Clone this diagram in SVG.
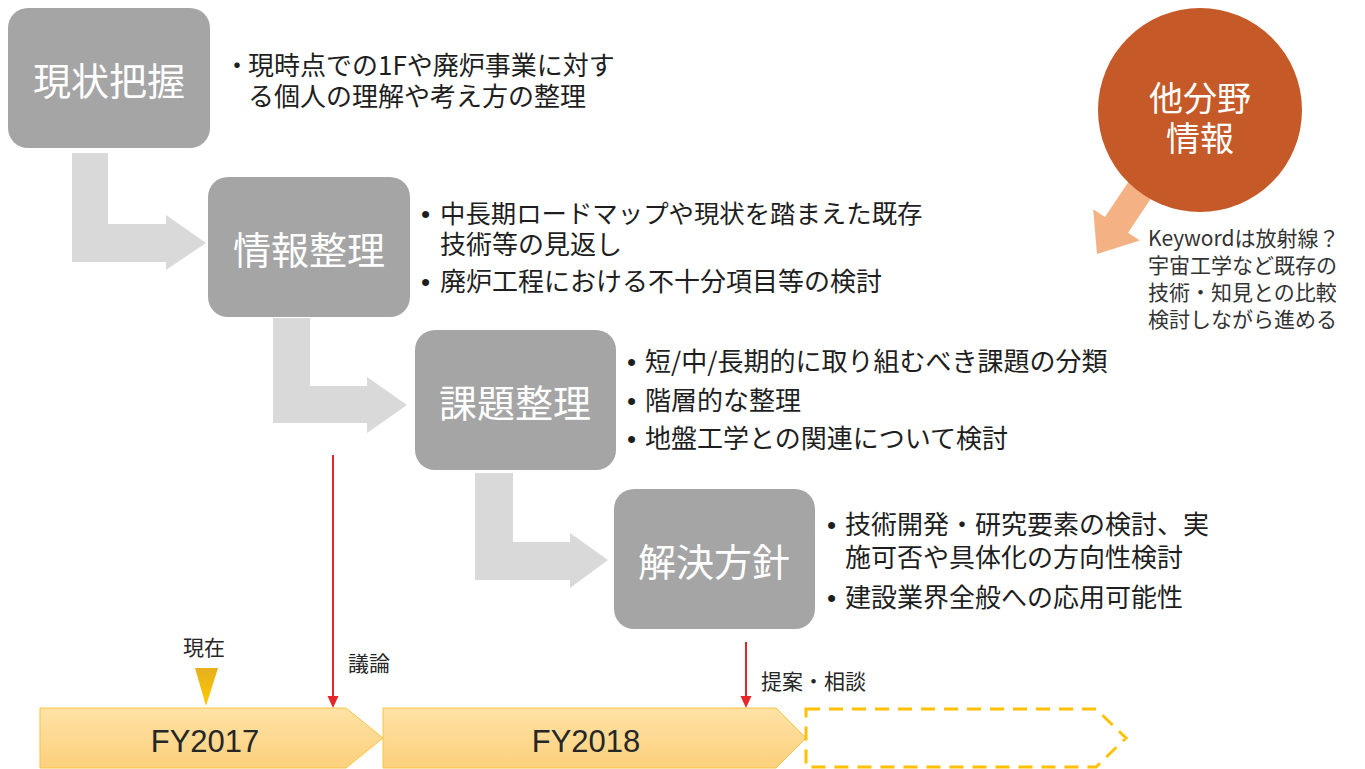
<svg xmlns="http://www.w3.org/2000/svg" width="1365" height="769" viewBox="0 0 1365 769">
<defs>
<linearGradient id="fy" x1="0" y1="0" x2="0" y2="1">
<stop offset="0" stop-color="#fee2a6"/>
<stop offset="1" stop-color="#fcd07c"/>
</linearGradient>
<linearGradient id="tri" x1="0" y1="0" x2="0" y2="1">
<stop offset="0" stop-color="#e5b020"/>
<stop offset="1" stop-color="#ffc800"/>
</linearGradient>
<style>
.box{fill:#a5a5a5}
.lbl{font-family:"Noto Sans CJK JP","Noto Sans",sans-serif;font-size:38px;fill:#ffffff;text-anchor:middle;dominant-baseline:central}
.txt{font-family:"Noto Sans CJK JP","Noto Sans",sans-serif;font-size:26px;fill:#1e1e1e}
.bul{font-family:"Liberation Sans",sans-serif}
.elbow{fill:#d9d9d9}
.red{stroke:#e8262a;stroke-width:2;fill:none}
.redh{fill:#e8262a}
.small{font-family:"Noto Sans CJK JP","Noto Sans",sans-serif;font-size:21px;fill:#262626}
.fy{fill:url(#fy);stroke:#f6c445;stroke-width:1}
.fyt{font-family:"Liberation Sans",Arial,sans-serif;font-size:31px;fill:#262626;text-anchor:middle}
.note{font-family:"Noto Sans CJK JP","Noto Sans",sans-serif;font-size:21px;fill:#333333}
</style>
</defs>
<rect width="1365" height="769" fill="#ffffff"/>

<g id="connectors">
<polygon class="elbow" points="72,153 108,153 108,224 166,224 166,215 206,243 166,270 166,262 72,262"/>
<polygon class="elbow" points="273,318 310,318 310,386 367,386 367,377 407,405 367,433 367,423 273,423"/>
<polygon class="elbow" points="475,473 513,473 513,542 570,542 570,533 608,560 570,588 570,580 475,580"/>
<line class="red" x1="333" y1="455" x2="333" y2="698"/>
<polygon class="redh" points="327.5,696 338.5,696 333,708"/>
<line class="red" x1="746" y1="642" x2="746" y2="698"/>
<polygon class="redh" points="740.5,696 751.5,696 746,708"/>
</g>

<g id="node-genjo">
<rect class="box" x="8" y="8" width="202" height="140" rx="20"/>
<text class="lbl" x="109" y="78">現状把握</text>
<text class="txt" x="224" y="75">・</text>
<text class="txt" x="248" y="75">現時点での1Fや廃炉事業に対す</text>
<text class="txt" x="248" y="106">る個人の理解や考え方の整理</text>
</g>

<g id="node-joho">
<rect class="box" x="208" y="177" width="202" height="140" rx="20"/>
<text class="lbl" x="309" y="247">情報整理</text>
<text class="txt bul" x="421" y="223">•</text>
<text class="txt" x="440" y="223" style="font-size:25.4px">中長期ロードマップや現状を踏まえた既存</text>
<text class="txt" x="440" y="254">技術等の見返し</text>
<text class="txt bul" x="421" y="291">•</text>
<text class="txt" x="440" y="291">廃炉工程における不十分項目等の検討</text>
</g>

<g id="node-kadai">
<rect class="box" x="415" y="330" width="201" height="140" rx="20"/>
<text class="lbl" x="515" y="400">課題整理</text>
<text class="txt bul" x="627" y="371">•</text>
<text class="txt" x="645" y="371">短/中/長期的に取り組むべき課題の分類</text>
<text class="txt bul" x="627" y="410">•</text>
<text class="txt" x="645" y="410">階層的な整理</text>
<text class="txt bul" x="627" y="448">•</text>
<text class="txt" x="645" y="448">地盤工学との関連について検討</text>
</g>

<g id="node-kaiketsu">
<rect class="box" x="614" y="489" width="201" height="140" rx="20"/>
<text class="lbl" x="714" y="559">解決方針</text>
<text class="txt bul" x="827" y="534">•</text>
<text class="txt" x="845" y="534">技術開発・研究要素の検討、実</text>
<text class="txt" x="845" y="567">施可否や具体化の方向性検討</text>
<text class="txt bul" x="827" y="607">•</text>
<text class="txt" x="845" y="607">建設業界全般への応用可能性</text>
</g>

<g id="node-tabunya">
<polygon fill="#f4b183" points="1133.9,173.7 1157.1,189.3 1128.1,232.7 1139.8,240.5 1097,254 1093.2,209.3 1104.9,217.1"/>
<circle cx="1200" cy="110" r="102" fill="#c55a28"/>
<text class="lbl" x="1200" y="96" style="font-size:34px">他分野</text>
<text class="lbl" x="1200" y="136" style="font-size:34px">情報</text>
<text class="note" x="1148" y="246">Keywordは放射線？</text>
<text class="note" x="1148" y="273">宇宙工学など既存の</text>
<text class="note" x="1148" y="300">技術・知見との比較</text>
<text class="note" x="1148" y="327">検討しながら進める</text>
</g>

<g id="timeline">
<polygon class="fy" points="40,708 346,708 383,738 346,768 40,768"/>
<text class="fyt" x="205" y="752">FY2017</text>
<polygon class="fy" points="383,708 776,708 806,738 776,768 383,768"/>
<text class="fyt" x="586" y="752">FY2018</text>
<polygon points="806,709 1096,709 1126,738 1096,767 806,767" fill="none" stroke="#ffc000" stroke-width="3" stroke-dasharray="14 9"/>
</g>

<g id="marker-now">
<text class="small" x="183" y="655">現在</text>
<polygon fill="url(#tri)" points="195,668 218,668 206,706"/>
</g>
<g id="label-giron">
<text class="small" x="348" y="671">議論</text>
</g>
<g id="label-teian">
<text class="small" x="761" y="689">提案・相談</text>
</g>
</svg>
